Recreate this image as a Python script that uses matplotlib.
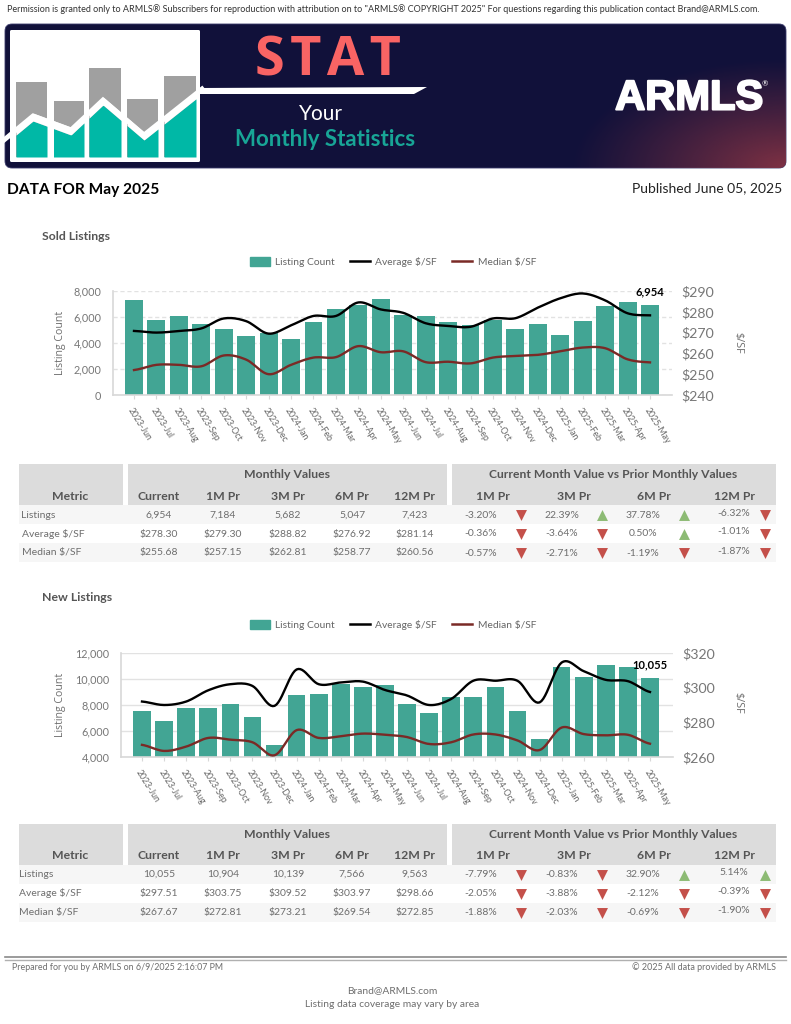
import numpy as np
import matplotlib
matplotlib.use('Agg')
import matplotlib.pyplot as plt
import matplotlib.patheffects as pe
from matplotlib.patches import Rectangle, FancyBboxPatch, Polygon
from matplotlib.lines import Line2D

plt.rcParams['font.family'] = ['Lato', 'DejaVu Sans']

W, H = 791, 1024

months = ['2023-Jun', '2023-Jul', '2023-Aug', '2023-Sep', '2023-Oct', '2023-Nov', '2023-Dec',
          '2024-Jan', '2024-Feb', '2024-Mar', '2024-Apr', '2024-May', '2024-Jun', '2024-Jul',
          '2024-Aug', '2024-Sep', '2024-Oct', '2024-Nov', '2024-Dec',
          '2025-Jan', '2025-Feb', '2025-Mar', '2025-Apr', '2025-May']

sold_count = [7300, 5800, 6100, 5450, 5050, 4530, 4750, 4300, 5620, 6580, 6900, 7423,
              6150, 6050, 5630, 5400, 5800, 5047, 5500, 4620, 5682, 6830, 7184, 6954]
sold_avg = [270.8, 270, 270.8, 272, 276.8, 275.5, 269.5, 273.5, 278, 278, 284.5, 281.14,
            279.5, 274.5, 273.2, 272.8, 276.8, 276.92, 282, 286.5, 288.82, 285.5, 279.3, 278.3]
sold_med = [252, 254.5, 254.5, 253.8, 259, 257, 250, 254.5, 258, 258.2, 263.5, 260.56,
            261, 255.8, 256, 255.2, 258, 258.77, 259.3, 261, 262.81, 262.5, 257.15, 255.68]

new_count = [7550, 6800, 7750, 7780, 8080, 7100, 4950, 8780, 8830, 9600, 9350, 9563,
             8100, 7420, 8580, 8650, 9400, 7566, 5380, 10950, 10139, 11100, 10904, 10055]
new_avg = [292, 290, 292, 298.5, 302, 301, 289.5, 310.5, 302, 303, 303.5, 298.66,
           295.5, 290, 293.5, 304, 304, 303.97, 291.5, 314.5, 309.52, 304.5, 303.75, 297.51]
new_med = [267, 263.5, 266, 271, 270, 268.5, 261, 275.5, 271, 272, 273.5, 272.85,
           271.5, 267.5, 268.5, 273, 273, 269.54, 264, 277, 273.21, 272.5, 272.81, 267.67]

metrics = ['Listings', 'Average $/SF', 'Median $/SF']
value_heads = ['Current', '1M Pr', '3M Pr', '6M Pr', '12M Pr']
change_heads = ['1M Pr', '3M Pr', '6M Pr', '12M Pr']

sold_values = [['6,954', '7,184', '5,682', '5,047', '7,423'],
               ['$278.30', '$279.30', '$288.82', '$276.92', '$281.14'],
               ['$255.68', '$257.15', '$262.81', '$258.77', '$260.56']]
sold_changes = [['-3.20%', '22.39%', '37.78%', '-6.32%'],
                ['-0.36%', '-3.64%', '0.50%', '-1.01%'],
                ['-0.57%', '-2.71%', '-1.19%', '-1.87%']]
new_values = [['10,055', '10,904', '10,139', '7,566', '9,563'],
              ['$297.51', '$303.75', '$309.52', '$303.97', '$298.66'],
              ['$267.67', '$272.81', '$273.21', '$269.54', '$272.85']]
new_changes = [['-7.79%', '-0.83%', '32.90%', '5.14%'],
               ['-2.05%', '-3.88%', '-2.12%', '-0.39%'],
               ['-1.88%', '-2.03%', '-0.69%', '-1.90%']]

TEAL = '#42a594'
GREY = '#6e6e6e'
HEAD = '#dcdcdc'


def smooth(y, n=12):
    # catmull-rom just for drawing the curved lines
    y = np.asarray(y, dtype=float)
    p = np.concatenate([[y[0]], y, [y[-1]]])
    xs, ys = [], []
    for i in range(len(y) - 1):
        t = np.linspace(0, 1, n, endpoint=False)
        a, b, c, d = p[i], p[i + 1], p[i + 2], p[i + 3]
        ys.append(0.5 * (2 * b + (c - a) * t + (2 * a - 5 * b + 4 * c - d) * t ** 2
                         + (3 * b - a - 3 * c + d) * t ** 3))
        xs.append(i + t)
    xs.append([len(y) - 1])
    ys.append([y[-1]])
    return np.concatenate(xs), np.concatenate(ys)


def add_chart(box, first, last, count, avg, med, ylim, yticks, y2lim, y2ticks, grid_ls,
              label, label_off, legend_y, ylab_y, y2lab_y):
    left, right, top, bottom = box
    ax = fig.add_axes([left / W, 1 - bottom / H, (right - left) / W, (bottom - top) / H])
    ax.patch.set_alpha(0)
    step = (last - first) / (len(months) - 1)
    x = np.arange(len(months))
    ax.set_xlim((left - first) / step, (right - first) / step)
    ax.bar(x, count, width=0.8, color=TEAL, zorder=2, label='Listing Count')
    ax.set_ylim(*ylim)
    ax.set_yticks(yticks)
    ax.set_yticklabels([f'{v:,}' for v in yticks], fontsize=7.8, color='#777777')
    ax.set_xticks(x)
    ax.set_xticklabels(months, rotation=-58, ha='left', va='top', rotation_mode='anchor',
                       fontsize=6.3, color='#666666')
    ax.tick_params(axis='x', length=3, color='#d8d8d8', pad=5)
    ax.tick_params(axis='y', length=0, pad=8)
    ax.grid(axis='y', color='#e2e2e2', lw=1, ls=grid_ls, zorder=0)
    ax.set_axisbelow(True)
    for s in ['top', 'right']:
        ax.spines[s].set_visible(False)
    for s in ['left', 'bottom']:
        ax.spines[s].set_color('#d8d8d8')
        ax.spines[s].set_linewidth(1.2)
    ax.annotate(label, (x[-1], count[-1]), xytext=(0, label_off), textcoords='offset points',
                ha='center', va='center', fontsize=8, fontweight='bold', color='black', zorder=6)

    ax2 = ax.twinx()
    ax2.patch.set_alpha(0)
    ax2.set_ylim(*y2lim)
    ax2.set_yticks(y2ticks)
    ax2.set_yticklabels([f'${v}' for v in y2ticks], fontsize=10.2, color='#777777')
    ax2.tick_params(axis='y', length=0, pad=7)
    for s in ax2.spines.values():
        s.set_visible(False)
    xs, ys = smooth(avg)
    ax2.plot(xs, ys, color='black', lw=1.7, zorder=4)
    xs, ys = smooth(med)
    ax2.plot(xs, ys, color='#7a2a26', lw=1.7, zorder=4)

    handles = [Rectangle((0, 0), 1, 1, color=TEAL),
               Line2D([], [], color='black', lw=1.8),
               Line2D([], [], color='#7a2a26', lw=1.8)]
    fig.legend(handles, ['Listing Count', 'Average $/SF', 'Median $/SF'], loc='center',
               bbox_to_anchor=(393 / W, 1 - legend_y / H), ncol=3, frameon=False, fontsize=7.4,
               labelcolor='#666666', handlelength=1.95, handleheight=0.9, handletextpad=0.5,
               columnspacing=1.5)
    bg.text(60, ylab_y, 'Listing Count', rotation=90, ha='center', va='center', fontsize=7.6,
            color=GREY, family='Open Sans')
    bg.text(738, y2lab_y, '$/SF', rotation=-90, ha='center', va='center', fontsize=7.8,
            color=GREY, family='Open Sans')
    return ax


def add_table(y0, values, changes, label_x):
    bg.add_patch(Rectangle((19, y0), 103.5, 41, color=HEAD, lw=0))
    bg.add_patch(Rectangle((128, y0), 319, 41, color=HEAD, lw=0))
    bg.add_patch(Rectangle((452, y0), 324, 41, color=HEAD, lw=0))
    bg.text(70, y0 + 32, 'Metric', ha='center', va='center', fontsize=8.8, fontweight='bold', color='#555555')
    bg.text(287, y0 + 11, 'Monthly Values', ha='center', va='center', fontsize=8.8, fontweight='bold', color='#555555')
    bg.text(613, y0 + 11, 'Current Month Value vs Prior Monthly Values', ha='center', va='center',
            fontsize=8.7, fontweight='bold', color='#555555')
    for cx, t in zip([159, 223, 288, 352, 415], value_heads):
        bg.text(cx, y0 + 32, t, ha='center', va='center', fontsize=8.8, fontweight='bold', color='#555555')
    for cx, t in zip([493, 574, 654, 735], change_heads):
        bg.text(cx, y0 + 32, t, ha='center', va='center', fontsize=8.8, fontweight='bold', color='#555555')
    for i, m in enumerate(metrics):
        ry = y0 + 41 + 19 * i
        if i != 1:
            bg.add_patch(Rectangle((19, ry), 757, 19, color='#f6f6f6', lw=0))
        yc = ry + 10
        bg.text(label_x, yc, m, ha='left', va='center', fontsize=7.5, color=GREY)
        for cx, t in zip([159, 223, 288, 352, 415], values[i]):
            bg.text(cx, yc, t, ha='center', va='center', fontsize=7.5, color=GREY)
        for cx, ax_, t, dy in zip([481, 562, 643, 734], [521, 602, 684, 765], changes[i], [0, 0, 0, -2]):
            bg.text(cx, yc + dy, t, ha='center', va='center', fontsize=7.5, color=GREY)
            if t.startswith('-'):
                bg.scatter([ax_], [yc], marker='v', s=62, color='#c4504a', lw=0, zorder=3)
            else:
                bg.scatter([ax_], [yc], marker='^', s=62, color='#8dbb74', lw=0, zorder=3)


fig = plt.figure(figsize=(W / 100, H / 100), dpi=100, facecolor='white')
bg = fig.add_axes([0, 0, 1, 1])
bg.axis('off')

# banner
banner = FancyBboxPatch((5, 24), 781, 144, boxstyle='round,pad=0,rounding_size=7',
                        fc='#11113a', ec='#3a3a6a', lw=0.6, zorder=1)
bg.add_patch(banner)
gx, gy = np.meshgrid(np.linspace(0, 1, 300), np.linspace(0, 1, 100))
dist = np.sqrt(((1 - gx) * 781 / 215) ** 2 + ((1 - gy) * 144 / 110) ** 2)
grad = np.zeros((100, 300, 4))
grad[..., 0] = 0.52
grad[..., 1] = 0.20
grad[..., 2] = 0.27
grad[..., 3] = np.clip(1 - dist, 0, 1) ** 1.1 * 0.95
im = bg.imshow(grad, extent=(5, 786, 168, 24), aspect='auto', zorder=1.1, interpolation='bilinear')
im.set_clip_path(banner)

# icon in the banner
bg.add_patch(FancyBboxPatch((10, 30), 190, 132, boxstyle='round,pad=0,rounding_size=1.5', fc='white', lw=0, zorder=2))
icon_left = [16, 53.5, 89, 127, 164]
icon_right = [47, 84, 121, 158, 196]
icon_top = [82, 101, 68, 99, 76]
zig_x = [4, 33, 71, 103, 144, 202]
zig_y = [140, 116, 130, 100, 135, 89]
for l, r, t in zip(icon_left, icon_right, icon_top):
    bg.add_patch(Rectangle((l, t), r - l, 157 - t, fc='#a0a0a0', lw=0, zorder=2.1))
    xx = np.linspace(l, r, 30)
    yy = np.interp(xx, zig_x, zig_y) + 5
    bg.fill_between(xx, yy, 157, color='#00b8a6', lw=0, zorder=2.2)
    bg.fill_between(xx, yy - 8, yy, color='white', lw=0, zorder=2.3)
bg.plot(zig_x, zig_y, color='white', lw=3.5, solid_joinstyle='miter', zorder=2.4)
bg.add_patch(Polygon([(199, 88), (427, 87), (414, 94), (199, 94)], fc='white', lw=0, zorder=2.4))

bg.text(328, 61, 'S\u200aT\u200aA\u200aT', ha='center', va='center', fontsize=39, fontweight='bold',
        color='#f96464', family=['Open Sans', 'DejaVu Sans'], zorder=3)
bg.text(321, 114, 'Your', ha='center', va='center', fontsize=15, color='white', zorder=3)
bg.text(325, 140, 'Monthly Statistics', ha='center', va='center', fontsize=16, fontweight='bold',
        color='#18a596', zorder=3)
bg.text(689, 98.5, 'ARMLS', ha='center', va='center', fontsize=30, fontweight='bold',
        color='white', family='Liberation Sans', zorder=3,
        path_effects=[pe.withStroke(linewidth=1.5, foreground='white')])
bg.text(765, 84, '®', ha='center', va='center', fontsize=5.5, color='white', zorder=3)

# header text
bg.text(7, 9, 'Permission is granted only to ARMLS® Subscribers for reproduction with attribution on to '
        '"ARMLS® COPYRIGHT 2025" For questions regarding this publication contact Brand@ARMLS.com.',
        ha='left', va='center', fontsize=6.45, color='#333333')
bg.text(7, 190, 'DATA FOR May 2025', ha='left', va='center', fontsize=11.2, fontweight='bold', color='black')
bg.text(782, 188.5, 'Published June 05, 2025', ha='right', va='center', fontsize=10, color='#222222')
bg.text(42, 236, 'Sold Listings', ha='left', va='center', fontsize=8.8, fontweight='bold', color='#555555')
bg.text(42, 597.5, 'New Listings', ha='left', va='center', fontsize=8.8, fontweight='bold', color='#555555')

add_chart((112.5, 671.5, 291, 395), 134, 650, sold_count, sold_avg, sold_med, (0, 8000),
          [0, 2000, 4000, 6000, 8000], (240, 290), [240, 250, 260, 270, 280, 290], (0, (3, 2)),
          '6,954', 9, 262, 343, 343)
add_chart((120.5, 672.5, 653, 757), 142, 650, new_count, new_avg, new_med, (4000, 12000),
          [4000, 6000, 8000, 10000, 12000], (260, 320), [260, 280, 300, 320], '-',
          '10,055', 9.5, 625, 705, 703)

add_table(464, sold_values, sold_changes, 21.5)
add_table(823.5, new_values, new_changes, 19)

# footer
bg.plot([5, 786], [957, 957], color='#8a8a8a', lw=1.2)
bg.plot([5, 786], [959.5, 959.5], color='#b0b0b0', lw=1.0)
bg.text(12, 967, 'Prepared for you by ARMLS on 6/9/2025 2:16:07 PM', ha='left', va='center', fontsize=6.4, color=GREY)
bg.text(776, 967, '© 2025 All data provided by ARMLS', ha='right', va='center', fontsize=6.45, color=GREY)
bg.text(392.5, 990.5, 'Brand@ARMLS.com', ha='center', va='center', fontsize=7.4, color=GREY)
bg.text(392.5, 1004.5, 'Listing data coverage may vary by area', ha='center', va='center', fontsize=7.4, color=GREY)

bg.set_xlim(0, W)
bg.set_ylim(H, 0)

fig.savefig('out.png', dpi=100)
